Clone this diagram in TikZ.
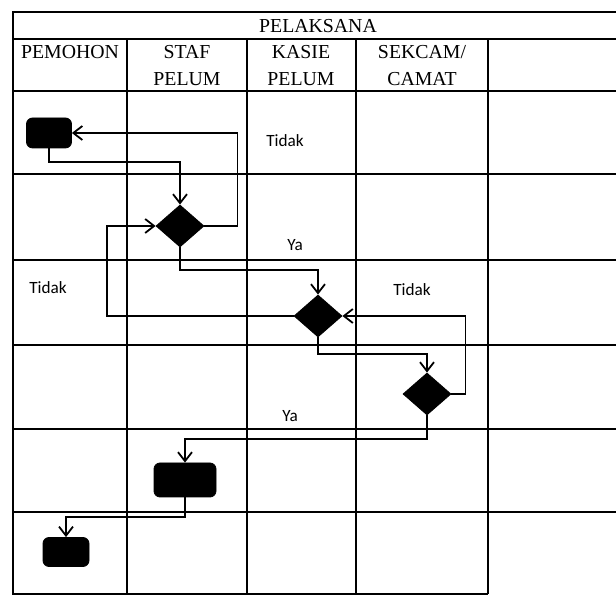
\documentclass[tikz,border=0pt]{standalone}
\usepackage{fontspec}
\setmainfont{Liberation Serif}
\newfontfamily\lblfont{Carlito}
\usetikzlibrary{arrows.meta,shapes.geometric}

\begin{document}
\begin{tikzpicture}[
    x=0.5pt, y=-0.5pt,
    lane/.style={line width=0.9pt},
    hdr/.style={align=center,inner sep=0pt,font=\fontsize{9.9}{13.5}\selectfont},
    act/.style={rectangle,rounded corners=3pt,fill=black,draw=black,inner sep=0pt},
    dec/.style={diamond,fill=black,draw=black,inner sep=0pt,minimum width=24pt,minimum height=21pt},
    lbl/.style={inner sep=0pt,font=\lblfont\fontsize{8.6}{10}\selectfont},
    flow/.style={->,line width=0.9pt},
    >={Straight Barb[length=4.5pt,width=7pt]}
]
\useasboundingbox (0,0) rectangle (616,597);
\draw[lane] (616,12) -- (13,12) -- (13,594) -- (488,594);
\draw[lane] (13,39) -- (616,39);
\draw[lane] (13,91) -- (616,91);
\draw[lane] (13,174) -- (616,174);
\draw[lane] (13,260) -- (616,260);
\draw[lane] (13,345) -- (616,345);
\draw[lane] (13,429) -- (616,429);
\draw[lane] (13,512) -- (616,512);
\draw[lane] (127,39) -- (127,594);
\draw[lane] (247,39) -- (247,594);
\draw[lane] (356,39) -- (356,594);
\draw[lane] (488,39) -- (488,594);
\node[hdr] (pelaksana) at (318,26) {PELAKSANA};
\node[hdr] (pemohon) at (70,52) {PEMOHON};
\node[hdr] (staf) at (187,66) {STAF\\PELUM};
\node[hdr] (kasie) at (301,66) {KASIE\\PELUM};
\node[hdr] (sekcam) at (422,66) {SEKCAM/\\CAMAT};
\node[act,minimum width=22.5pt,minimum height=15pt] (mulai) at (49,133) {};
\node[dec] (cek1) at (180,226) {};
\node[dec] (cek2) at (318,316) {};
\node[dec] (cek3) at (427,394) {};
\node[act,minimum width=31pt,minimum height=17pt] (proses) at (185,480) {};
\node[act,minimum width=23pt,minimum height=14.5pt] (selesai) at (66,552) {};
\draw[flow] (mulai.south) -- ++(0,14) -| (cek1.north);
\draw[flow] (cek1.east) -- ++(33,0) |- (mulai.east);
\draw[flow] (cek1.south) -- ++(0,23) -| (cek2.north);
\draw[flow] (cek2.west) -- ++(-187,0) |- (cek1.west);
\draw[flow] (cek2.south) -- ++(0,17) -| (cek3.north);
\draw[flow] (cek3.east) -- ++(14,0) |- (cek2.east);
\draw[flow] (cek3.south) -- ++(0,24) -| (proses.north);
\draw[flow] (proses.south) -- ++(0,20) -| (selesai.north);
\node[lbl] (tidak1) at (285,141) {Tidak};
\node[lbl] (ya1) at (295,245) {Ya};
\node[lbl] (tidak2) at (48,288) {Tidak};
\node[lbl] (tidak3) at (412,290) {Tidak};
\node[lbl] (ya2) at (290,416) {Ya};
\end{tikzpicture}
\end{document}
